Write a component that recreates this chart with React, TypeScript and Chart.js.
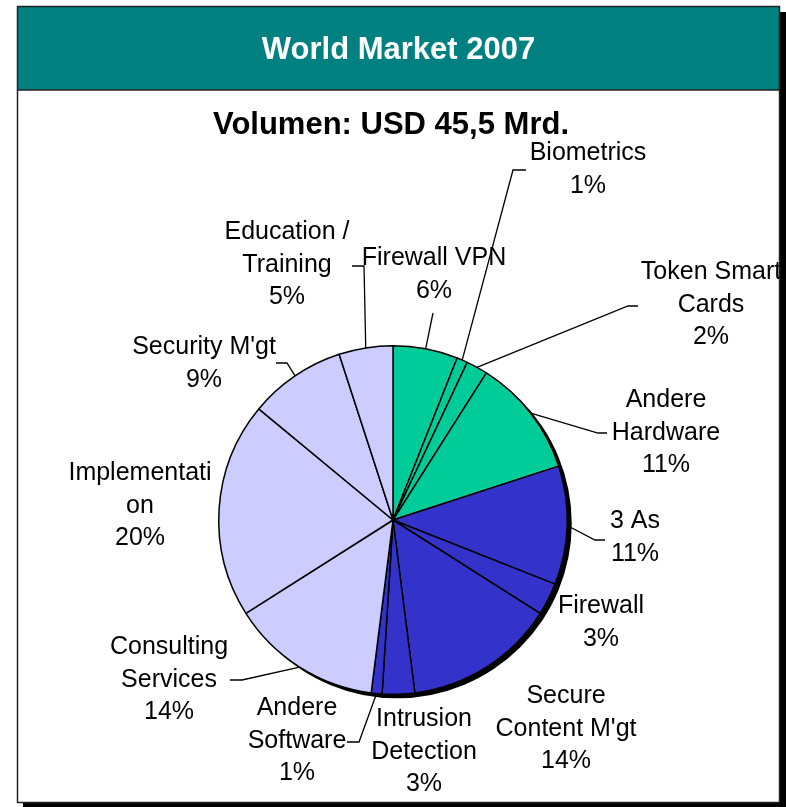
import React, { useEffect, useRef } from "react";
import { Chart, registerables } from "chart.js";

Chart.register(...registerables);

const categories = [
  "Firewall VPN",
  "Biometrics",
  "Token Smart Cards",
  "Andere Hardware",
  "3 As",
  "Firewall",
  "Secure Content M'gt",
  "Intrusion Detection",
  "Andere Software",
  "Consulting Services",
  "Implementation",
  "Security M'gt",
  "Education / Training",
];
const shares = [6, 1, 2, 11, 11, 3, 14, 3, 1, 14, 20, 9, 5];
const labelLines = [
  ["Firewall VPN"],
  ["Biometrics"],
  ["Token Smart", "Cards"],
  ["Andere", "Hardware"],
  ["3 As"],
  ["Firewall"],
  ["Secure", "Content M'gt"],
  ["Intrusion", "Detection"],
  ["Andere", "Software"],
  ["Consulting", "Services"],
  ["Implementati", "on"],
  ["Security M'gt"],
  ["Education /", "Training"],
];
const groups = ["hw", "hw", "hw", "hw", "sw", "sw", "sw", "sw", "sw", "sv", "sv", "sv", "sv"];
const title = "World Market 2007";
const subtitle = "Volumen: USD 45,5 Mrd.";

const groupColors: Record<string, string> = { hw: "#00CC99", sw: "#3333CC", sv: "#CCCCFF" };

// label placement: centre x, first line middle y, optional leader [elbow, end]
const labelLayout: { x: number; y: number; leader: number[][] | null }[] = [
  { x: 434, y: 258, leader: [[433, 313]] },
  { x: 588, y: 153, leader: [[513, 170], [526, 170]] },
  { x: 711, y: 272, leader: [[628, 306], [638, 306]] },
  { x: 666, y: 400, leader: [[598, 433], [607, 433]] },
  { x: 635, y: 521, leader: [[595, 540], [605, 540]] },
  { x: 601, y: 606, leader: null },
  { x: 566, y: 696, leader: null },
  { x: 424, y: 719, leader: null },
  { x: 297, y: 708, leader: [[359, 742], [347, 742]] },
  { x: 169, y: 647, leader: [[242, 680], [230, 680]] },
  { x: 140, y: 473, leader: null },
  { x: 204, y: 347, leader: [[287, 363], [276, 363]] },
  { x: 287, y: 232, leader: [[364, 266], [352, 266]] },
];

const FONT = "Arial, 'Liberation Sans', sans-serif";
const FRAME = { l: 17, t: 6, r: 780, b: 803, header: 90 };
const LINE_H = 32.8;

const framePlugin = {
  id: "framePlugin",
  beforeDraw(chart: any) {
    const ctx = chart.ctx as CanvasRenderingContext2D;
    ctx.save();
    ctx.fillStyle = "#000";
    ctx.fillRect(FRAME.l + 6, FRAME.t + 6, FRAME.r - FRAME.l, FRAME.b - FRAME.t + 1);
    ctx.fillStyle = "#fff";
    ctx.fillRect(FRAME.l, FRAME.t, FRAME.r - FRAME.l, FRAME.b - FRAME.t);
    ctx.fillStyle = "#008080";
    ctx.fillRect(FRAME.l, FRAME.t, FRAME.r - FRAME.l, FRAME.header - FRAME.t);
    ctx.strokeStyle = "#222";
    ctx.lineWidth = 1.5;
    ctx.strokeRect(FRAME.l + 0.5, FRAME.t + 0.5, FRAME.r - FRAME.l - 1, FRAME.b - FRAME.t - 1);
    ctx.beginPath();
    ctx.moveTo(FRAME.l, FRAME.header);
    ctx.lineTo(FRAME.r, FRAME.header);
    ctx.stroke();

    ctx.textAlign = "center";
    ctx.textBaseline = "middle";
    ctx.fillStyle = "#fff";
    ctx.font = `bold 31px ${FONT}`;
    ctx.fillText(title, 398.5, 50);
    ctx.fillStyle = "#000";
    ctx.font = `bold 31px ${FONT}`;
    ctx.fillText(subtitle, 391, 125);
    ctx.restore();
  },
  beforeDatasetsDraw(chart: any) {
    const meta = chart.getDatasetMeta(0);
    const arc = meta.data[0];
    if (!arc) return;
    const { x, y, outerRadius } = arc.getProps(["x", "y", "outerRadius"], true);
    const ctx = chart.ctx as CanvasRenderingContext2D;
    ctx.save();
    ctx.fillStyle = "#000";
    ctx.beginPath();
    ctx.arc(x + 4, y + 3.5, outerRadius + 0.5, 0, Math.PI * 2);
    ctx.fill();
    ctx.restore();
  },
  afterDatasetsDraw(chart: any) {
    const meta = chart.getDatasetMeta(0);
    const ctx = chart.ctx as CanvasRenderingContext2D;
    ctx.save();
    ctx.beginPath();
    ctx.rect(FRAME.l + 1, FRAME.header, FRAME.r - FRAME.l - 2, FRAME.b - FRAME.header - 1);
    ctx.clip();
    meta.data.forEach((el: any, i: number) => {
      const p = el.getProps(["x", "y", "startAngle", "endAngle", "outerRadius"], true);
      const mid = (p.startAngle + p.endAngle) / 2;
      const sx = p.x + Math.cos(mid) * p.outerRadius;
      const sy = p.y + Math.sin(mid) * p.outerRadius;
      const lay = labelLayout[i];
      if (lay.leader) {
        ctx.strokeStyle = "#000";
        ctx.lineWidth = 1.3;
        ctx.beginPath();
        ctx.moveTo(sx, sy);
        lay.leader.forEach((pt) => ctx.lineTo(pt[0], pt[1]));
        ctx.stroke();
      }
      const lines = [...labelLines[i], `${shares[i]}%`];
      ctx.fillStyle = "#000";
      ctx.font = `25px ${FONT}`;
      ctx.textAlign = "center";
      ctx.textBaseline = "middle";
      lines.forEach((t, k) => ctx.fillText(t, lay.x, lay.y + k * LINE_H));
    });
    ctx.restore();
  },
};

export default function App() {
  const ref = useRef<HTMLCanvasElement | null>(null);
  useEffect(() => {
    document.body.style.margin = "0";
    document.body.style.overflow = "hidden";
    if (!ref.current) return;
    const chart = new Chart(ref.current, {
      type: "pie",
      data: {
        labels: categories,
        datasets: [
          {
            data: shares,
            backgroundColor: groups.map((g) => groupColors[g]),
            borderColor: "#000",
            borderWidth: 1.5,
          },
        ],
      },
      options: {
        responsive: false,
        animation: false,
        events: [],
        layout: { padding: { left: 218, right: 218, top: 345, bottom: 112 } },
        plugins: {
          legend: { display: false },
          tooltip: { enabled: false },
          title: { display: false },
        },
      },
      plugins: [framePlugin],
    });
    return () => chart.destroy();
  }, []);
  return (
    <div style={{ position: "absolute", left: 0, top: 0, width: 786, height: 807 }}>
      <canvas ref={ref} width={786} height={807} style={{ width: 786, height: 807, display: "block" }} />
    </div>
  );
}
